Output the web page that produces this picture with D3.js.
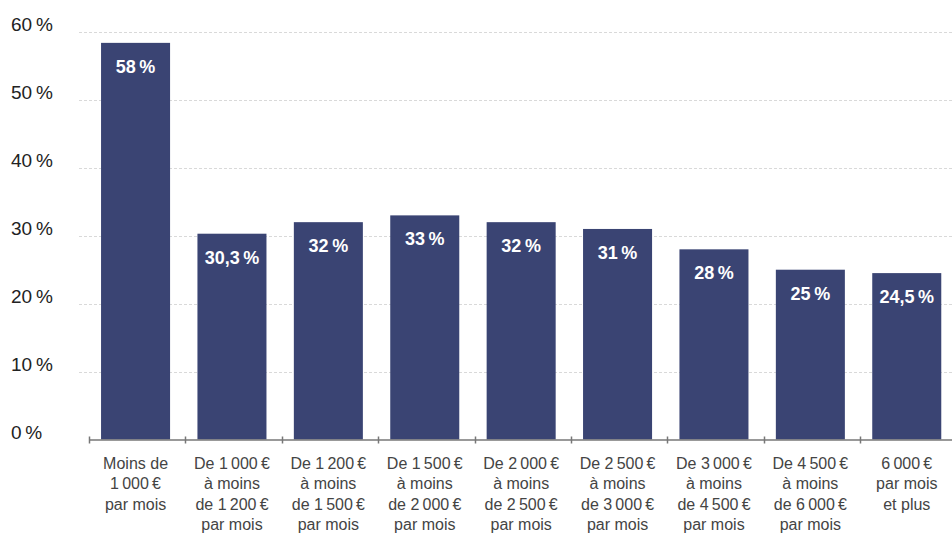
<!DOCTYPE html>
<html>
<head>
<meta charset="utf-8">
<script src="https://cdn.jsdelivr.net/npm/d3@7/dist/d3.min.js"></script>
<style>
  body { margin: 0; background: #fff; }
  svg { display: block; font-family: "Liberation Sans", Arial, sans-serif; }
  .grid line { stroke: #d9d9d9; stroke-dasharray: 3 2; }
  .ylab { fill: #222; font-size: 19px; }
  .bar { fill: #3a4473; }
  .val { fill: #fff; font-size: 18px; font-weight: bold; text-anchor: middle; }
  .cat { fill: #444; font-size: 16px; text-anchor: middle; }
</style>
</head>
<body>
<script>
// values
var NB = '\u202F';
var categories = [
  ['Moins de', '1' + NB + '000' + NB + '€', 'par mois'],
  ['De 1' + NB + '000' + NB + '€', 'à moins', 'de 1' + NB + '200' + NB + '€', 'par mois'],
  ['De 1' + NB + '200' + NB + '€', 'à moins', 'de 1' + NB + '500' + NB + '€', 'par mois'],
  ['De 1' + NB + '500' + NB + '€', 'à moins', 'de 2' + NB + '000' + NB + '€', 'par mois'],
  ['De 2' + NB + '000' + NB + '€', 'à moins', 'de 2' + NB + '500' + NB + '€', 'par mois'],
  ['De 2' + NB + '500' + NB + '€', 'à moins', 'de 3' + NB + '000' + NB + '€', 'par mois'],
  ['De 3' + NB + '000' + NB + '€', 'à moins', 'de 4' + NB + '500' + NB + '€', 'par mois'],
  ['De 4' + NB + '500' + NB + '€', 'à moins', 'de 6' + NB + '000' + NB + '€', 'par mois'],
  ['6' + NB + '000' + NB + '€', 'par mois', 'et plus']
];
var values = [58.4, 30.3, 32, 33, 32, 31, 28, 25, 24.5];
var valueLabels = ['58', '30,3', '32', '33', '32', '31', '28', '25', '24,5'];
var yTicks = [0, 10, 20, 30, 40, 50, 60];

var w = 952,
    h = 534;

var svg = d3.select('body').append('svg')
    .attr('width', w)
    .attr('height', h);

var idx = d3.range(values.length);

var x = d3.scaleBand()
    .domain(idx)
    .range([89, 89 + 9 * 96.4])
    .paddingInner(0.284)
    .paddingOuter(0.142)
    .align(0.44);

var y = d3.scaleLinear()
    .domain([0, 60])
    .range([439.5, 32]);

// gridlines (no line at 0, the axis takes it)
var grid = svg.append('g').attr('class', 'grid');
grid.selectAll('line')
    .data(yTicks.filter(function(d) { return d > 0; }))
    .enter().append('line')
    .attr('x1', 79)
    .attr('x2', w)
    .attr('y1', function(d) { return Math.round(y(d)) + 0.5; })
    .attr('y2', function(d) { return Math.round(y(d)) + 0.5; });

svg.append('g').selectAll('text')
    .data(yTicks)
    .enter().append('text')
    .attr('class', 'ylab')
    .attr('x', 11)
    .attr('y', function(d) { return y(d) - 1; })
    .text(function(d) { return d + NB + '%'; });

// bars
svg.append('g').selectAll('rect')
    .data(values)
    .enter().append('rect')
    .attr('class', 'bar')
    .attr('x', function(d, i) { return x(i); })
    .attr('width', x.bandwidth())
    .attr('y', function(d) { return y(d); })
    .attr('height', function(d) { return y(0) - y(d); });

svg.append('g').selectAll('text')
    .data(values)
    .enter().append('text')
    .attr('class', 'val')
    .attr('x', function(d, i) { return x(i) + x.bandwidth() / 2; })
    .attr('y', function(d) { return y(d) + 30; })
    .text(function(d, i) { return valueLabels[i] + NB + '%'; });

// x axis line with ticks at band boundaries
var axis = svg.append('g').attr('class', 'xaxis');
axis.append('line')
    .attr('x1', x.range()[0])
    .attr('x2', w)
    .attr('y1', y(0) + 0.5)
    .attr('y2', y(0) + 0.5)
    .attr('stroke', '#777')
    .attr('stroke-width', 1.5);
axis.selectAll('line.tick')
    .data(idx)
    .enter().append('line')
    .attr('class', 'tick')
    .attr('x1', function(i) { return Math.round(x.range()[0] + i * x.step()) + 0.5; })
    .attr('x2', function(i) { return Math.round(x.range()[0] + i * x.step()) + 0.5; })
    .attr('y1', y(0) - 3)
    .attr('y2', y(0) + 4)
    .attr('stroke', '#777')
    .attr('stroke-width', 1.5);

// category labels
var cat = svg.append('g').selectAll('text')
    .data(categories)
    .enter().append('text')
    .attr('class', 'cat')
    .attr('transform', function(d, i) {
        return 'translate(' + (x(i) + x.bandwidth() / 2) + ',' + 469 + ')';
    });
cat.selectAll('tspan')
    .data(function(d) { return d; })
    .enter().append('tspan')
    .attr('x', 0)
    .attr('y', function(d, j) { return j * 20.3; })
    .text(function(d) { return d; });
</script>
</body>
</html>
